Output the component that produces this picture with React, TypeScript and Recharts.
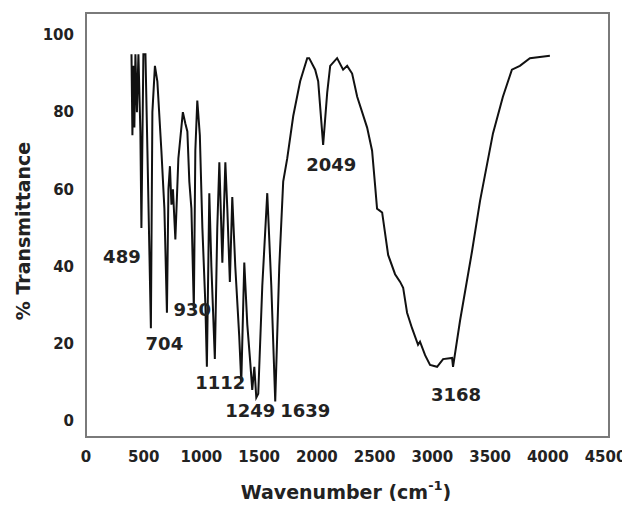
import { LineChart, Line, XAxis, YAxis, ReferenceArea, ReferenceDot } from 'recharts';

// wavenumber (cm-1) and % transmittance
const wavenumbers = [
  394, 402, 411, 419, 428, 441, 454, 471, 480, 497, 515, 532, 562, 575, 597, 618, 653, 679, 701, 714,
  727, 740, 753, 774, 800, 839, 861, 878, 895, 913, 934, 947, 964, 986, 1008, 1034, 1047, 1068, 1086, 1116,
  1137, 1155, 1181, 1207, 1224, 1246, 1267, 1293, 1327, 1345, 1371, 1397, 1423, 1440, 1458, 1475, 1492, 1527, 1570, 1605,
  1639, 1674, 1708, 1743, 1795, 1855, 1916, 1933, 1985, 2011, 2054, 2089, 2115, 2175, 2227, 2262, 2305, 2349, 2435, 2478,
  2504, 2521, 2565, 2617, 2677, 2721, 2747, 2781, 2824, 2876, 2893, 2937, 2980, 3041, 3093, 3171, 3179, 3240, 3344, 3413,
  3525, 3611, 3689, 3758, 3845, 4018,
];
const transmittance = [
  95, 74, 92, 76, 95, 80, 95, 75, 50, 95, 95, 70, 24, 80, 92, 88, 70, 55, 28, 60,
  66, 56, 60, 47, 68, 80, 77, 75, 62, 55, 29, 70, 83, 74, 50, 30, 14, 59, 40, 16,
  50, 67, 41, 67, 55, 36, 58, 40, 22, 10, 41, 25, 15, 8, 14, 6, 7, 35, 59, 35,
  5, 40, 62, 68, 79, 88, 94, 94, 91, 88, 71.5, 85, 92, 94, 91, 92, 90, 84, 76, 70,
  61, 55, 54, 43, 38, 36, 34.5, 28, 24, 19.7, 20.5, 17, 14.5, 14, 16, 16.3, 14, 26, 44, 57,
  74.5, 84, 91, 92, 94, 94.6,
];

// peak annotations: label, wavenumber, transmittance of the text centre
const peakLabels = ['489', '704', '930', '1112', '1249', '1639', '2049', '3168'];
const peakX = [311, 679, 921, 1163, 1423, 1899, 2124, 3205];
const peakY = [42.5, 20, 28.8, 9.8, 2.6, 2.6, 66.3, 6.7];

const xTicks = [0, 500, 1000, 1500, 2000, 2500, 3000, 3500, 4000, 4500];
const yTicks = [0, 20, 40, 60, 80, 100];

const data = wavenumbers.map((wn, i) => ({ wn, t: transmittance[i] }));

const font = '"DejaVu Sans", sans-serif';
const tickStyle = { fontFamily: font, fontSize: 15, fontWeight: 'bold', fill: '#222' };

const XTitle = () => (
  <text x={346} y={499} textAnchor="middle" fontFamily={font} fontSize={19} fontWeight="bold" fill="#222">
    Wavenumber (cm
    <tspan fontSize={13} dy={-9}>-1</tspan>
    <tspan dy={9}>)</tspan>
  </text>
);

const YTitle = () => (
  <text
    x={30}
    y={231}
    transform="rotate(-90, 30, 231)"
    textAnchor="middle"
    fontFamily={font}
    fontSize={19}
    fontWeight="bold"
    fill="#222"
  >
    % Transmittance
  </text>
);

export default function App() {
  return (
    <div style={{ margin: -8, width: 630, height: 509, background: '#fff' }}>
      <LineChart width={630} height={509} data={data} margin={{ top: 13, right: 21, left: 0, bottom: 0 }}>
        <ReferenceArea x1={0} x2={4530} y1={-4.2} y2={105.7} fill="none" stroke="#7a7a7a" strokeWidth={2} />
        <XAxis
          type="number"
          dataKey="wn"
          domain={[0, 4530]}
          ticks={xTicks}
          height={72}
          axisLine={false}
          tickLine={false}
          tickMargin={8}
          tick={tickStyle}
          label={<XTitle />}
        />
        <YAxis
          type="number"
          domain={[-4.2, 105.7]}
          ticks={yTicks}
          width={86}
          axisLine={false}
          tickLine={false}
          tickMargin={6}
          tick={tickStyle}
          label={<YTitle />}
        />
        <Line
          type="linear"
          dataKey="t"
          stroke="#111"
          strokeWidth={2}
          dot={false}
          isAnimationActive={false}
        />
        {peakLabels.map((p, i) => (
          <ReferenceDot
            key={p}
            x={peakX[i]}
            y={peakY[i]}
            r={0}
            fill="none"
            stroke="none"
            label={{ value: p, position: 'center', fontFamily: font, fontSize: 18, fontWeight: 'bold', fill: '#222' }}
          />
        ))}
      </LineChart>
    </div>
  );
}
